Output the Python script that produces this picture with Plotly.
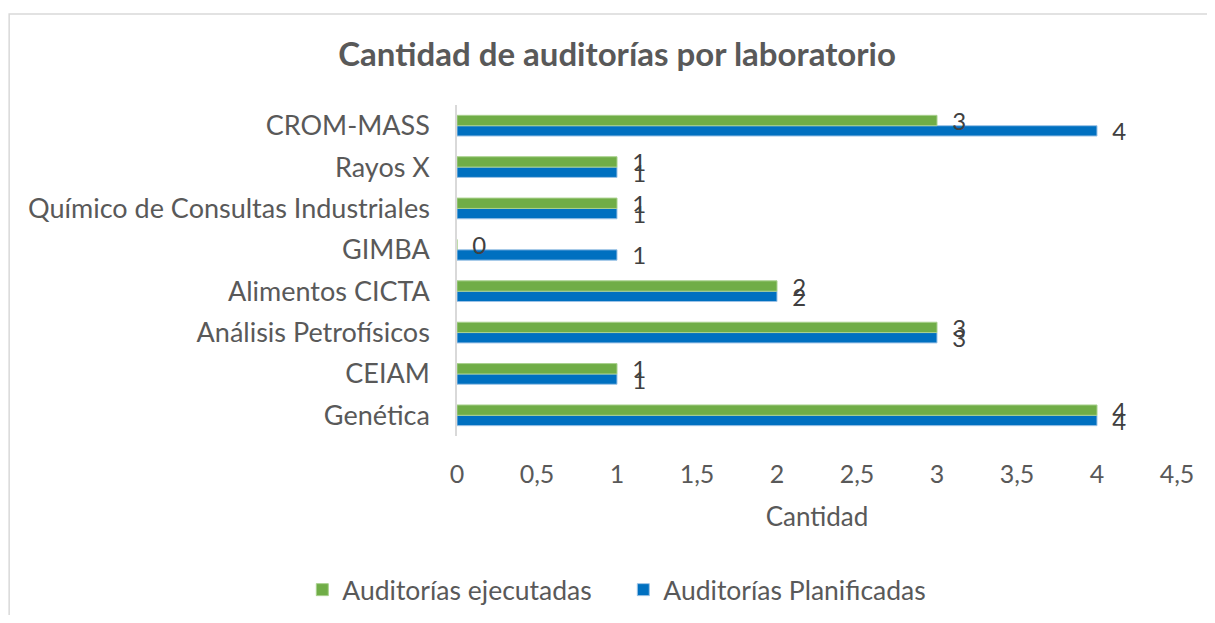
import plotly.graph_objects as go

laboratorios = ["Genética", "CEIAM", "Análisis Petrofísicos", "Alimentos CICTA",
                "GIMBA", "Químico de Consultas Industriales", "Rayos X", "CROM-MASS"]
ejecutadas = [4, 1, 3, 2, 0, 1, 1, 3]
planificadas = [4, 1, 3, 2, 1, 1, 1, 4]
x_ticks = [0, 0.5, 1, 1.5, 2, 2.5, 3, 3.5, 4, 4.5]
x_tick_text = ["0", "0,5", "1", "1,5", "2", "2,5", "3", "3,5", "4", "4,5"]

gris = "#595959"
fuente = "Lato"

fig = go.Figure()
fig.add_trace(go.Bar(
    y=laboratorios, x=planificadas, name="Auditorías Planificadas", orientation="h",
    marker=dict(color="#0070C0", line=dict(color="#9DC3E6", width=1)),
    text=planificadas, texttemplate="  %{x}", textposition="outside", constraintext="none",
    textfont=dict(family=fuente, size=24, color="#404040"), cliponaxis=False,
    legendrank=2,
))
fig.add_trace(go.Bar(
    y=laboratorios, x=ejecutadas, name="Auditorías ejecutadas", orientation="h",
    marker=dict(color="#70AD47", line=dict(color="#A9D18E", width=1)),
    text=ejecutadas, texttemplate="  %{x}", textposition="outside", constraintext="none",
    textfont=dict(family=fuente, size=24, color="#404040"), cliponaxis=False,
    legendrank=1,
))

# la página tiene 8px de margen, así que la figura es algo más pequeña que la ventana
fig.update_layout(
    width=1199, height=607,
    barmode="group", bargap=0.5, bargroupgap=0,
    paper_bgcolor="white", plot_bgcolor="white",
    margin=dict(l=449, r=30, t=97, b=179, autoexpand=False),
    font=dict(family=fuente, color=gris, size=25),
    title=dict(text="<b>Cantidad de auditorías por laboratorio</b>", x=0.508, xanchor="center",
               y=0.923, yanchor="middle", font=dict(family=fuente, size=33, color=gris)),
    legend=dict(orientation="h", x=0.231, xanchor="center", y=-0.465, yanchor="middle",
                font=dict(family=fuente, size=26.5, color=gris), traceorder="normal",
                itemwidth=30, entrywidthmode="pixels", entrywidth=276),
    showlegend=True,
    shapes=[dict(type="rect", xref="paper", yref="paper", x0=-0.622, x1=2, y0=-2, y1=1.275,
                 line=dict(color="#D9D9D9", width=1.5), layer="below")],
)
fig.update_xaxes(range=[0, 4.5], tickvals=x_ticks, ticktext=x_tick_text, showgrid=False,
                 zeroline=False, showline=False, ticks="", ticklabelstandoff=21,
                 tickfont=dict(size=25, color=gris), automargin=False,
                 title=dict(text="Cantidad", font=dict(size=26, color=gris), standoff=20))
fig.update_yaxes(showgrid=False, showline=True, linecolor="#D9D9D9", linewidth=1.5, ticks="",
                 ticklabelstandoff=20, tickfont=dict(size=27, color=gris), automargin=False)

fig.write_html("out.html")
